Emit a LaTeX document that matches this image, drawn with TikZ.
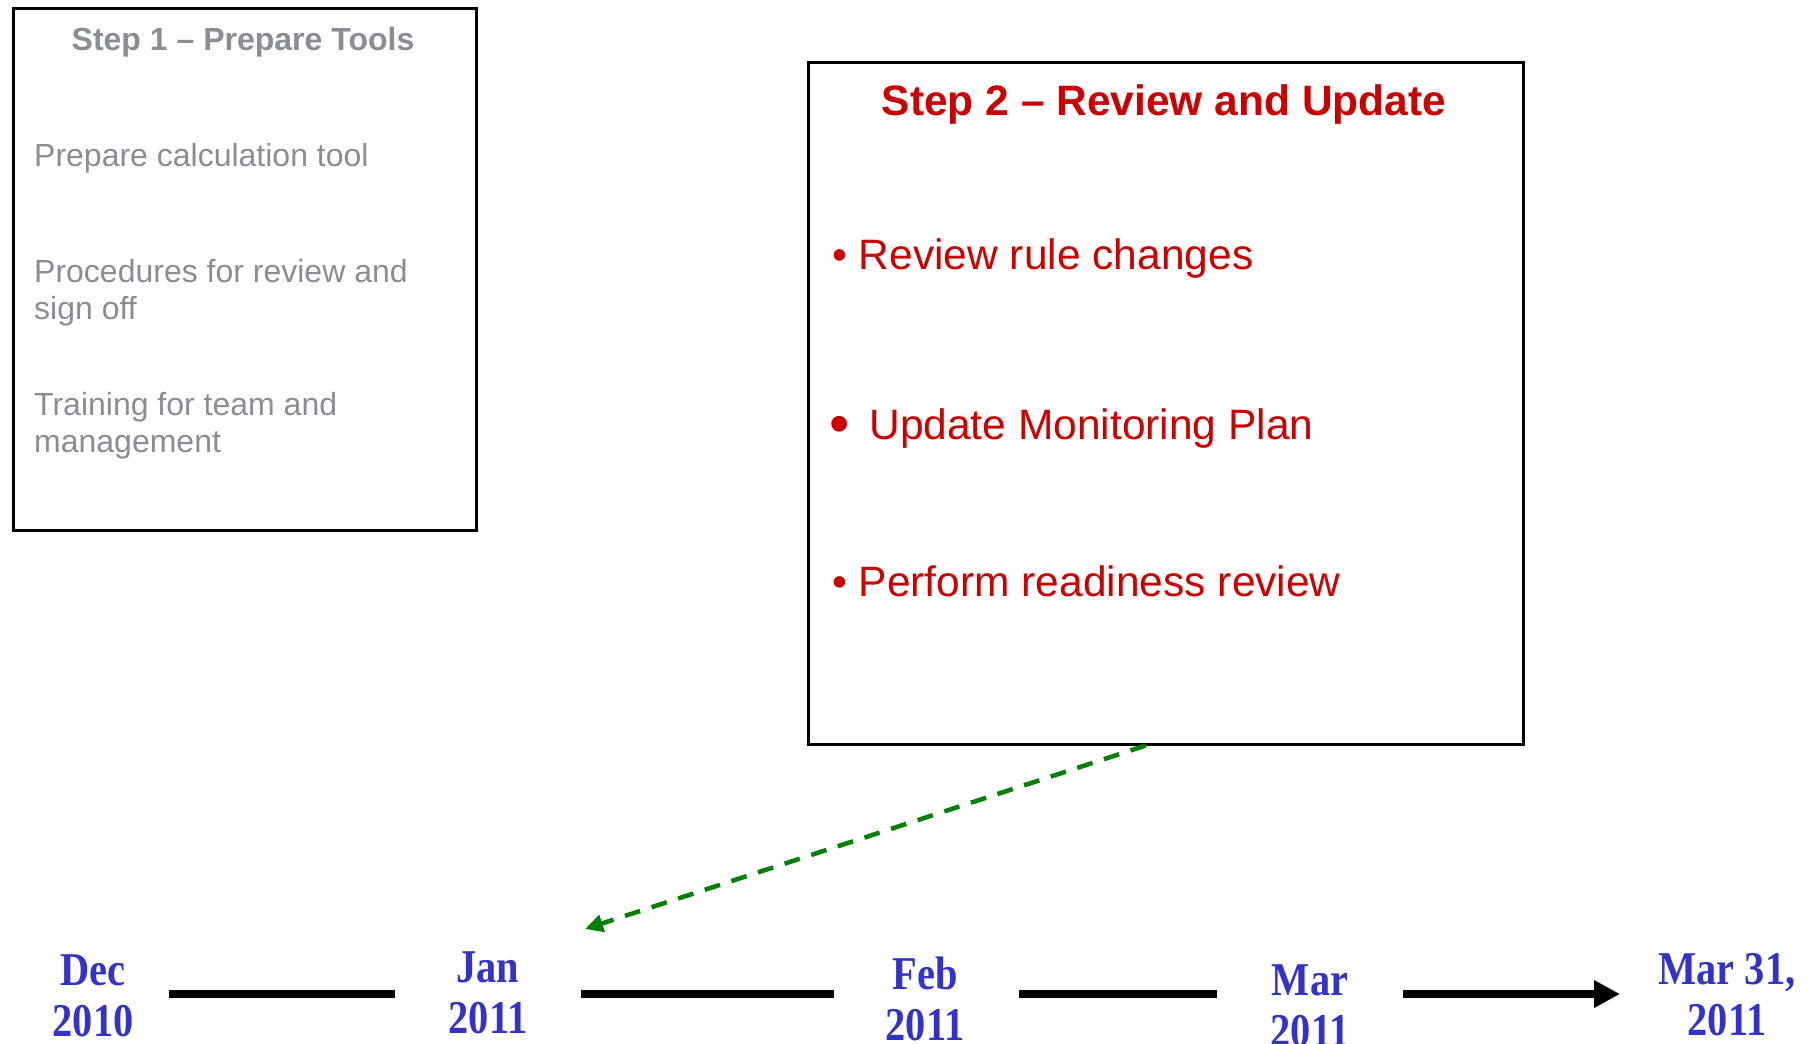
\documentclass[tikz,border=0pt]{standalone}
\usepackage{fontspec}
\setmainfont{Liberation Sans}
\newfontfamily\timesfont[FakeStretch=0.86]{Liberation Serif}
\usetikzlibrary{arrows.meta,calc}
\definecolor{stepgray}{RGB}{137,141,148}
\definecolor{stepred}{RGB}{204,0,0}
\definecolor{tlblue}{RGB}{51,51,204}
\definecolor{linkgreen}{RGB}{0,128,0}
\tikzset{
 frame/.style={draw=black, line width=2.5pt, inner sep=0pt, anchor=north west},
 graytitle/.style={font=\fontsize{32}{37}\selectfont\bfseries, text=stepgray, anchor=base, inner sep=0pt},
 grayitem/.style={font=\fontsize{32}{37}\selectfont, text=stepgray, anchor=base west, align=left, inner sep=0pt},
 redtitle/.style={font=\fontsize{42.5}{50}\selectfont\bfseries, text=stepred, anchor=base, inner sep=0pt},
 reditem/.style={font=\fontsize{42.5}{50}\selectfont, text=stepred, anchor=base west, inner sep=0pt},
 month/.style={font=\timesfont\fontsize{47}{51}\selectfont\bfseries, text=tlblue, align=center, anchor=base, inner sep=0pt},
 tline/.style={line width=8pt, black},
 tarrow/.style={tline, -{Triangle[length=26pt,width=26pt]}},
 link/.style={draw=linkgreen, line width=4.5pt, dash pattern=on 16pt off 12pt, -{Triangle[length=18pt,width=17pt]}},
}
\begin{document}
\begin{tikzpicture}[x=1pt,y=-1pt]
\useasboundingbox[fill=white] (0,0) rectangle (1818,1044);
% Step 1 box
\node[frame, minimum width=463pt, minimum height=522pt] (b1) at (12,7) {};
\node[graytitle] (t1) at (243,50) {Step 1 – Prepare Tools};
\node[grayitem] (i1) at (34,166) {Prepare calculation tool};
\node[grayitem] (i2) at (34,319) {Procedures for review and\\sign off};
\node[grayitem] (i3) at (34,452) {Training for team and\\management};
% Step 2 box
\node[frame, minimum width=715pt, minimum height=682pt] (b2) at (807,61) {};
\node[redtitle] (t2) at (1164,115) {Step 2 – Review and Update};
\node[reditem] (r1) at (832,269) {• Review rule changes};
\node[reditem] (r2) at (829,439) {\raisebox{-4pt}{\fontsize{58}{58}\selectfont •}\hspace{8pt} Update Monitoring Plan};
\node[reditem] (r3) at (832,596) {• Perform readiness review};
% timeline labels
\node[month] (dec) at (93,1036) {Dec\\2010};
\node[month] (jan) at (488,1033) {Jan\\2011};
\node[month] (feb) at (925,1040) {Feb\\2011};
\node[month] (mar) at (1310,1046) {Mar\\2011};
\node[month] (end) at (1727,1035) {Mar 31,\\2011};
% timeline segments
\coordinate (s1a) at (169,994); \coordinate (s1b) at (395,994);
\coordinate (s2a) at (581,994); \coordinate (s2b) at (834,994);
\coordinate (s3a) at (1019,994); \coordinate (s3b) at (1217,994);
\coordinate (s4a) at (1403,994); \coordinate (s4b) at (1620,994);
\draw[tline] (s1a) -- (s1b);
\draw[tline] (s2a) -- (s2b);
\draw[tline] (s3a) -- (s3b);
\draw[tarrow] (s4a) -- (s4b);
% link from step 2 to January
\coordinate (jantip) at (585,929);
\draw[link] ($(b2.south)+(-20,0)$) -- (jantip);
\end{tikzpicture}
\end{document}
